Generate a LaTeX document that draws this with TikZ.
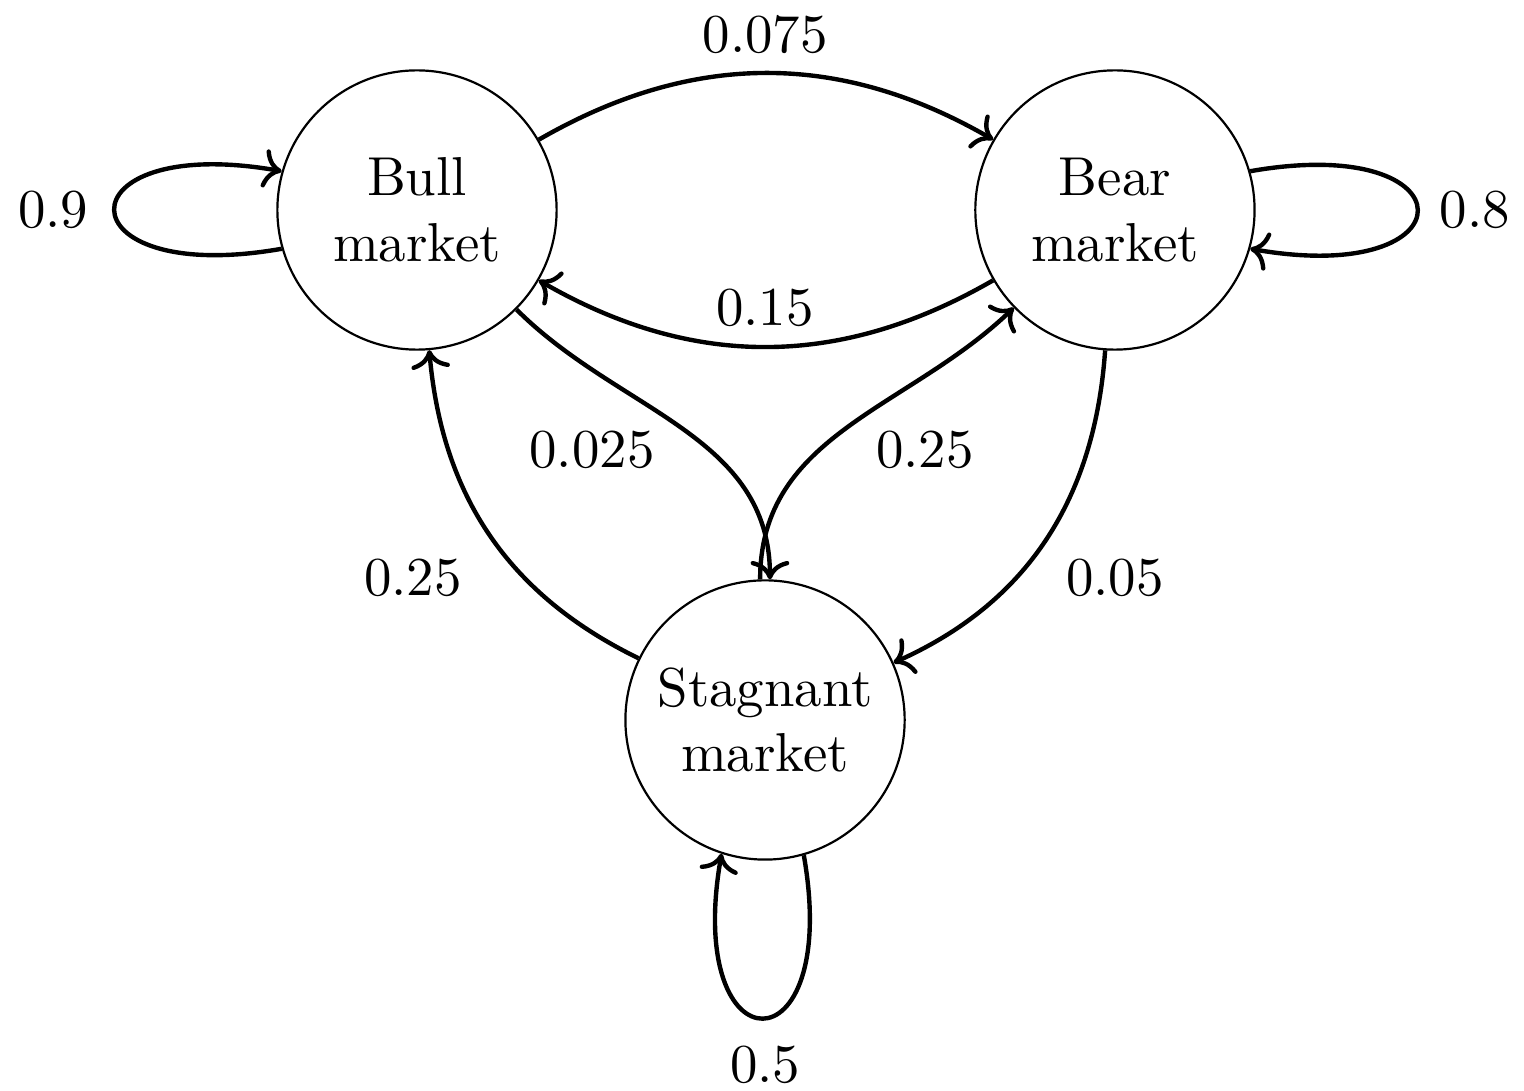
\documentclass[tikz,border=0pt]{standalone}
\usepackage{tikz}
\usetikzlibrary{arrows.meta,positioning}

\begin{document}
\begin{tikzpicture}[
  state/.style={circle, draw, thin, minimum size=1.79cm, inner sep=1pt, align=center},
  arr/.style={->, thick},
  prob/.style={inner sep=1pt},
]
\useasboundingbox (0,0) rectangle (9.769,-6.987);
\node[state] (bull) at (2.673,-1.346) {Bull\\market};
\node[state] (bear) at (7.147,-1.346) {Bear\\market};
\node[state] (stag) at (4.904,-4.615) {Stagnant\\market};
% transitions between states
\draw[arr] (bull) to[bend left=30] (bear);
\draw[arr] (bear) to[bend left=30] (bull);
\draw[arr] (bull.-45) to[out=-45, in=90] (stag.88);
\draw[arr] (stag.92) to[out=90, in=224] (bear.224);
\draw[arr] (stag.154) to[out=154, in=-85] (bull.-85);
\draw[arr] (bear.-94) to[out=-94, in=24] (stag.24);
% self loops
\draw[arr] (bull.196) .. controls +(190:1.45cm) and +(170:1.45cm) .. (bull.164);
\draw[arr] (bear.16) .. controls +(10:1.45cm) and +(-10:1.45cm) .. (bear.-16);
\draw[arr] (stag.-74) .. controls +(-80:1.42cm) and +(-100:1.42cm) .. (stag.-108);
% probabilities
\node[prob] (p1) at (4.904,-0.224) {0.075};
\node[prob] (p2) at (4.904,-1.974) {0.15};
\node[prob] (p3) at (3.795,-2.885) {0.025};
\node[prob] (p4) at (5.929,-2.885) {0.25};
\node[prob] (p5) at (2.647,-3.705) {0.25};
\node[prob] (p6) at (7.147,-3.705) {0.05};
\node[prob] (p7) at (0.340,-1.346) {0.9};
\node[prob] (p8) at (9.455,-1.346) {0.8};
\node[prob] (p9) at (4.904,-6.827) {0.5};
\end{tikzpicture}
\end{document}
